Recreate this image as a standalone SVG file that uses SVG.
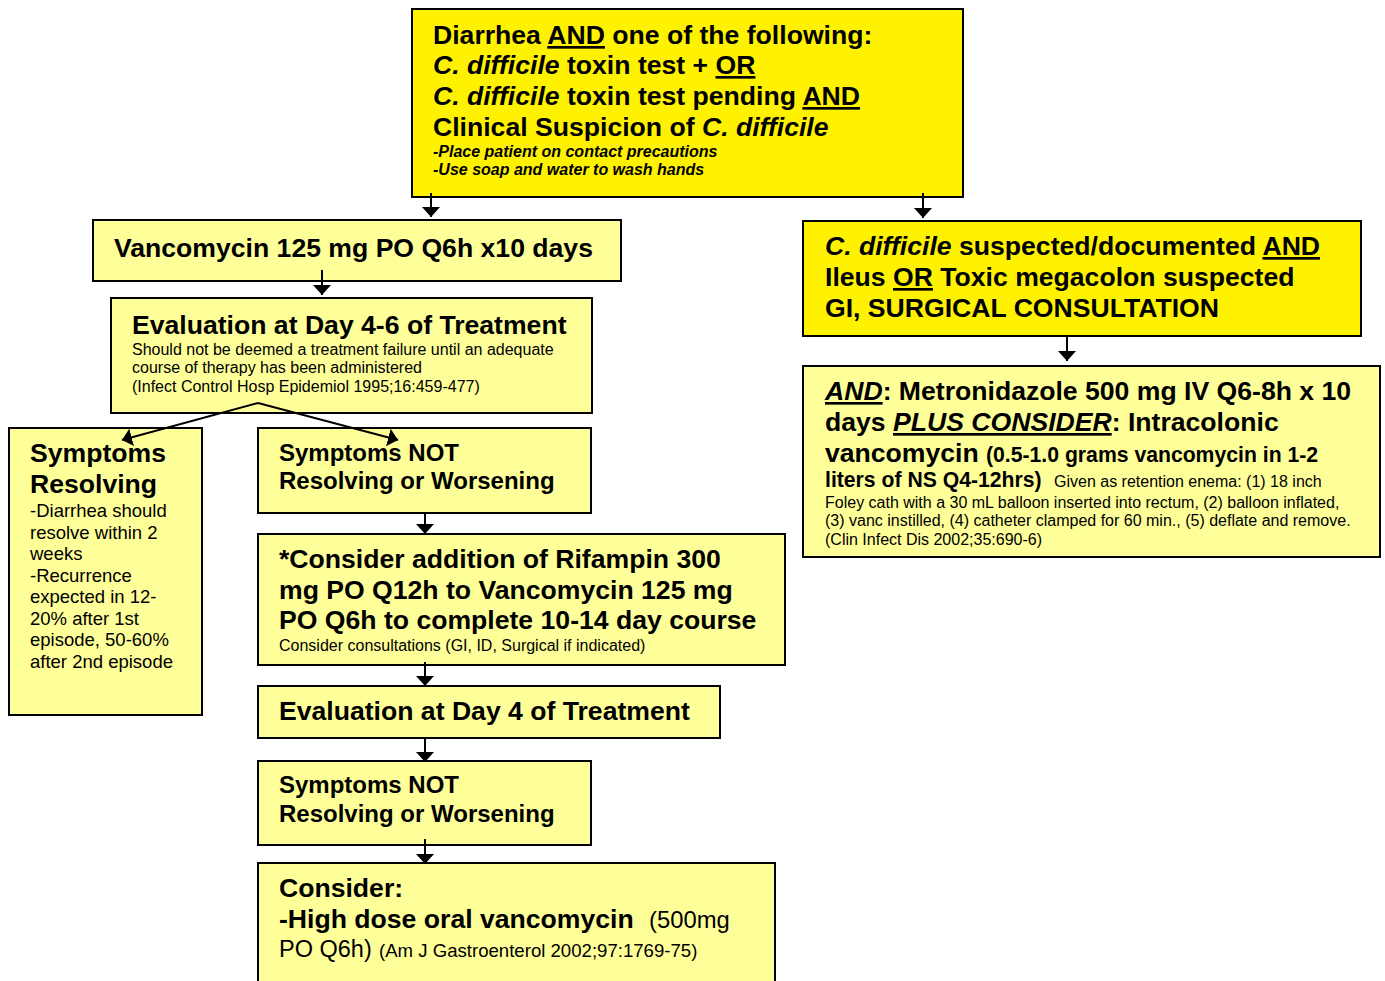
<svg xmlns="http://www.w3.org/2000/svg" width="1385" height="981" viewBox="0 0 1385 981">
<style>
text{font-family:"Liberation Sans",Arial,sans-serif;fill:#000}
.b{font-weight:bold}
.i{font-style:italic}
.u{text-decoration:underline}
.h{font-size:26.6px;font-weight:bold}
.m{font-size:24px;font-weight:bold}
.s{font-size:16px}
.box{stroke:#000;stroke-width:2}
.y1{fill:#FFF200}
.y2{fill:#FFFF99}
.c{stroke:#000;stroke-width:2;fill:none}
</style>
<defs>
<marker id="ah" viewBox="0 0 10 18" refX="10" refY="9" markerWidth="10" markerHeight="18" markerUnits="userSpaceOnUse" orient="auto">
<path d="M0,0 L10,9 L0,18 Z" fill="#000"/>
</marker>
</defs>
<rect width="1385" height="981" fill="#fff"/>

<g id="n-top">
<rect class="box y1" x="412" y="9" width="551" height="188"/>
<text class="h" x="433" y="44">Diarrhea <tspan class="u">AND</tspan> one of the following:</text>
<text class="h" x="433" y="74"><tspan class="i">C. difficile</tspan> toxin test + <tspan class="u">OR</tspan></text>
<text class="h" x="433" y="105"><tspan class="i">C. difficile</tspan> toxin test pending <tspan class="u">AND</tspan></text>
<text class="h" x="433" y="136">Clinical Suspicion of <tspan class="i">C. difficile</tspan></text>
<text class="s b i" x="433" y="157">-Place patient on contact precautions</text>
<text class="s b i" x="433" y="175">-Use soap and water to wash hands</text>
</g>

<g id="n-vanco">
<rect class="box y2" x="93" y="220" width="528" height="61"/>
<text class="h" x="114" y="257">Vancomycin 125 mg PO Q6h x10 days</text>
</g>

<g id="n-eval46">
<rect class="box y2" x="111" y="298" width="481" height="115"/>
<text class="h" x="132" y="334">Evaluation at Day 4-6 of Treatment</text>
<text class="s" x="132" y="355">Should not be deemed a treatment failure until an adequate</text>
<text class="s" x="132" y="373">course of therapy has been administered</text>
<text class="s" x="132" y="392">(Infect Control Hosp Epidemiol 1995;16:459-477)</text>
</g>

<g id="n-resolving">
<rect class="box y2" x="9" y="428" width="193" height="287"/>
<text class="h" x="30" y="462">Symptoms</text>
<text class="h" x="30" y="493">Resolving</text>
<g style="font-size:18.5px">
<text x="30" y="517">-Diarrhea should</text>
<text x="30" y="539">resolve within 2</text>
<text x="30" y="560">weeks</text>
<text x="30" y="582">-Recurrence</text>
<text x="30" y="603">expected in 12-</text>
<text x="30" y="625">20% after 1st</text>
<text x="30" y="646">episode, 50-60%</text>
<text x="30" y="668">after 2nd episode</text>
</g>
</g>

<g id="n-notres1">
<rect class="box y2" x="258" y="428" width="333" height="85"/>
<text class="m" x="279" y="461">Symptoms NOT</text>
<text class="m" x="279" y="489">Resolving or Worsening</text>
</g>

<g id="n-rifampin">
<rect class="box y2" x="258" y="534" width="527" height="131"/>
<text class="h" x="279" y="568">*Consider addition of Rifampin 300</text>
<text class="h" x="279" y="599">mg PO Q12h to Vancomycin 125 mg</text>
<text class="h" x="279" y="629">PO Q6h to complete 10-14 day course</text>
<text class="s" x="279" y="651">Consider consultations (GI, ID, Surgical if indicated)</text>
</g>

<g id="n-eval4">
<rect class="box y2" x="258" y="686" width="462" height="52"/>
<text class="h" x="279" y="720">Evaluation at Day 4 of Treatment</text>
</g>

<g id="n-notres2">
<rect class="box y2" x="258" y="761" width="333" height="84"/>
<text class="m" x="279" y="793">Symptoms NOT</text>
<text class="m" x="279" y="822">Resolving or Worsening</text>
</g>

<g id="n-consider">
<rect class="box y2" x="258" y="863" width="517" height="130"/>
<text class="h" x="279" y="897">Consider:</text>
<text x="279" y="928"><tspan class="h">-High dose oral vancomycin</tspan><tspan x="649" style="font-size:23.8px">(500mg</tspan></text>
<text x="279" y="957"><tspan style="font-size:23.5px">PO Q6h)</tspan><tspan x="379" style="font-size:18.6px">(Am J Gastroenterol 2002;97:1769-75)</tspan></text>
</g>

<g id="n-ileus">
<rect class="box y1" x="803" y="221" width="558" height="115"/>
<text class="h" x="825" y="255"><tspan class="i">C. difficile</tspan> suspected/documented <tspan class="u">AND</tspan></text>
<text class="h" x="825" y="286">Ileus <tspan class="u">OR</tspan> Toxic megacolon suspected</text>
<text class="h" x="825" y="317">GI, SURGICAL CONSULTATION</text>
</g>

<g id="n-metro">
<rect class="box y2" x="803" y="366" width="577" height="191"/>
<text class="h" x="825" y="400"><tspan class="i u">AND</tspan>: Metronidazole 500 mg IV Q6-8h x 10</text>
<text class="h" x="825" y="431">days <tspan class="i u">PLUS CONSIDER</tspan>: Intracolonic</text>
<text x="825" y="462"><tspan class="h">vancomycin</tspan><tspan x="986" class="b" style="font-size:21.2px">(0.5-1.0 grams vancomycin in 1-2</tspan></text>
<text x="825" y="487"><tspan class="b" style="font-size:21.2px">liters of NS Q4-12hrs)</tspan><tspan x="1054" class="s">Given as retention enema: (1) 18 inch</tspan></text>
<text class="s" x="825" y="508">Foley cath with a 30 mL balloon inserted into rectum, (2) balloon inflated,</text>
<text class="s" x="825" y="526">(3) vanc instilled, (4) catheter clamped for 60 min., (5) deflate and remove.</text>
<text class="s" x="825" y="545">(Clin Infect Dis 2002;35:690-6)</text>
</g>

<g id="connectors">
<line class="c" x1="431" y1="193" x2="431" y2="217" marker-end="url(#ah)"/>
<line class="c" x1="923" y1="193" x2="923" y2="218" marker-end="url(#ah)"/>
<line class="c" x1="322" y1="270" x2="322" y2="295" marker-end="url(#ah)"/>
<line class="c" x1="258" y1="403" x2="122" y2="440" marker-end="url(#ah)"/>
<line class="c" x1="258" y1="403" x2="398" y2="440" marker-end="url(#ah)"/>
<line class="c" x1="425" y1="512" x2="425" y2="534" marker-end="url(#ah)"/>
<line class="c" x1="425" y1="662" x2="425" y2="686" marker-end="url(#ah)"/>
<line class="c" x1="425" y1="738" x2="425" y2="762" marker-end="url(#ah)"/>
<line class="c" x1="425" y1="839" x2="425" y2="864" marker-end="url(#ah)"/>
<line class="c" x1="1067" y1="336" x2="1067" y2="361" marker-end="url(#ah)"/>
</g>
</svg>
